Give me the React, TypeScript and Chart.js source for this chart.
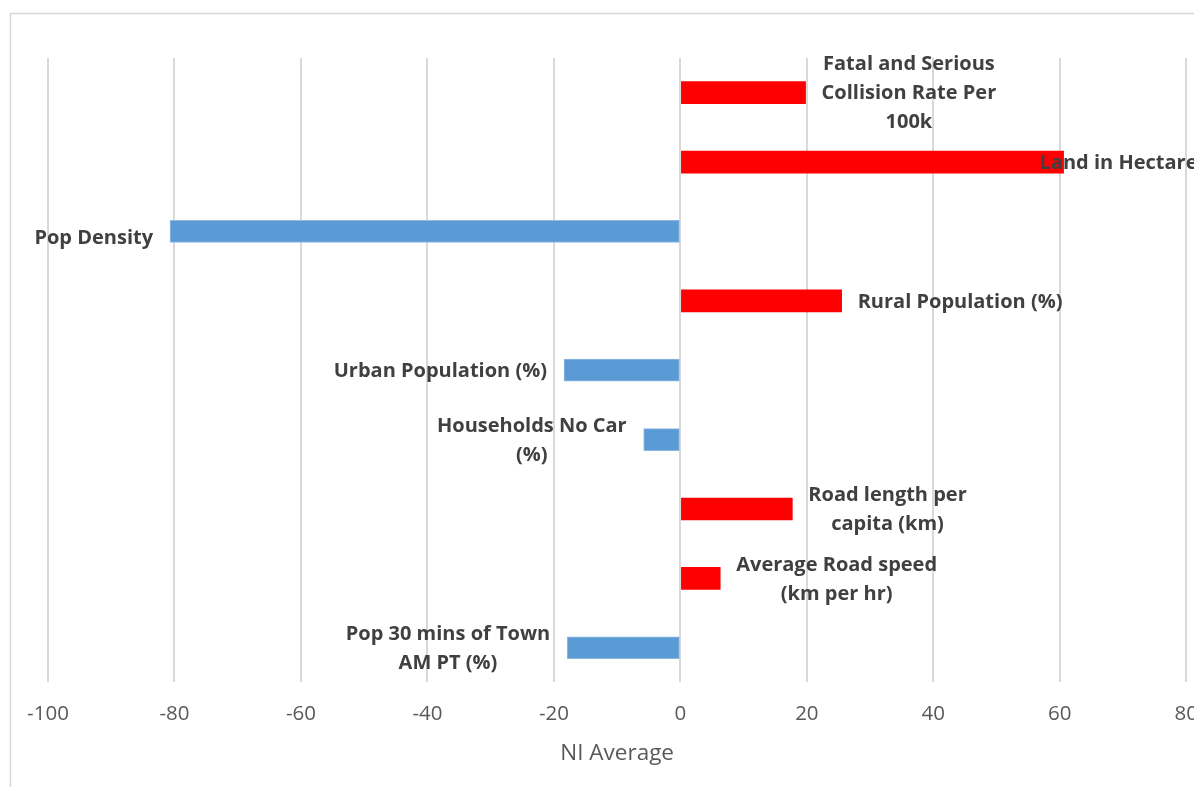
import React, { useEffect, useRef } from "react";
import { Chart, registerables } from "chart.js";

Chart.register(...registerables);

// Indicator names, wrapped as they appear next to each bar
const categories: string[][] = [
  ["Fatal and Serious", "Collision Rate Per", "100k"],
  ["Land in Hectares"],
  ["Pop Density"],
  ["Rural Population (%)"],
  ["Urban Population (%)"],
  ["Households No Car", "(%)"],
  ["Road length per", "capita (km)"],
  ["Average Road speed", "(km per hr)"],
  ["Pop 30 mins of Town", "AM PT (%)"],
];

// Difference from the NI average
const values: number[] = [19.8, 60.6, -80.7, 25.5, -18.4, -5.8, 17.7, 6.3, -17.9];

const xTicks = { min: -100, max: 80, step: 20 };
const axisTitle = "NI Average";

const POS_COLOR = "#ff0000";
const NEG_COLOR = "#5b9bd5";
const LABEL_COLOR = "#404040";
const TICK_COLOR = "#595959";
const GRID_COLOR = "#d9d9d9";
const FONT = "'Open Sans', 'DejaVu Sans', sans-serif";

// Small nudges for labels that sit apart from the default outside-end spot
const labelNudges: Record<number, { dx: number; dy: number }> = {
  1: { dx: -40, dy: 0 },
  2: { dx: 0, dy: 6 },
};

const barLabelPlugin = {
  id: "barLabels",
  afterDatasetsDraw(chart: any) {
    const { ctx } = chart;
    const meta = chart.getDatasetMeta(0);
    const gap = 16;
    const lineH = 29;
    ctx.save();
    ctx.font = `bold 20px ${FONT}`;
    ctx.fillStyle = LABEL_COLOR;
    ctx.textBaseline = "middle";
    ctx.textAlign = "center";
    meta.data.forEach((bar: any, i: number) => {
      const lines = categories[i];
      const v = values[i];
      const widths = lines.map((l) => ctx.measureText(l).width);
      const maxW = Math.max(...widths);
      const nudge = labelNudges[i] || { dx: 0, dy: 0 };
      const cx =
        v >= 0 ? bar.x + gap + maxW / 2 + nudge.dx : bar.x - gap - 1 - maxW / 2 + nudge.dx;
      const top = bar.y - ((lines.length - 1) * lineH) / 2 + nudge.dy;
      lines.forEach((l, k) => ctx.fillText(l, cx, top + k * lineH + 1));
    });
    ctx.restore();
  },
};

// Chart frame and the horizontal axis title
const framePlugin = {
  id: "frame",
  beforeDraw(chart: any) {
    const { ctx, width, height } = chart;
    ctx.save();
    ctx.fillStyle = "#ffffff";
    ctx.fillRect(0, 0, width, height);
    ctx.strokeStyle = GRID_COLOR;
    ctx.lineWidth = 1.5;
    ctx.beginPath();
    ctx.moveTo(2.5, height + 5);
    ctx.lineTo(2.5, 5.5);
    ctx.lineTo(width + 5, 5.5);
    ctx.stroke();
    ctx.restore();
  },
  afterDraw(chart: any) {
    const { ctx, chartArea } = chart;
    ctx.save();
    ctx.font = `22.5px ${FONT}`;
    ctx.fillStyle = TICK_COLOR;
    ctx.textAlign = "center";
    ctx.textBaseline = "middle";
    ctx.fillText(axisTitle, (chartArea.left + chartArea.right) / 2, chartArea.bottom + 71);
    ctx.restore();
  },
};

export default function App() {
  const ref = useRef<HTMLCanvasElement | null>(null);

  useEffect(() => {
    if (!ref.current) return;
    const chart = new Chart(ref.current, {
      type: "bar",
      data: {
        labels: categories.map((c) => c.join(" ")),
        datasets: [
          {
            data: values,
            backgroundColor: values.map((v) => (v >= 0 ? POS_COLOR : NEG_COLOR)),
            borderColor: values.map((v) => (v >= 0 ? POS_COLOR : "#8fb9e2")),
            borderWidth: values.map((v) => (v >= 0 ? 0 : 1)),
            borderSkipped: false,
            barThickness: 22,
          },
        ],
      },
      options: {
        indexAxis: "y",
        animation: false,
        responsive: false,
        maintainAspectRatio: false,
        layout: { padding: { left: 40, right: 0, top: 50, bottom: 42 } },
        plugins: {
          legend: { display: false },
          tooltip: { enabled: false },
        },
        scales: {
          x: {
            min: xTicks.min,
            max: xTicks.max,
            grid: { color: GRID_COLOR, lineWidth: 2, drawTicks: false },
            border: { display: false },
            ticks: {
              stepSize: xTicks.step,
              padding: 19,
              color: TICK_COLOR,
              font: { family: FONT, size: 20.5 },
              maxRotation: 0,
            },
          },
          y: {
            display: false,
            grid: { display: false },
          },
        },
      },
      plugins: [framePlugin, barLabelPlugin],
    });
    return () => chart.destroy();
  }, []);

  return (
    <div style={{ width: 1194, height: 779, overflow: "hidden", position: "relative" }}>
      <canvas ref={ref} width={1209} height={779} style={{ display: "block" }} />
    </div>
  );
}
